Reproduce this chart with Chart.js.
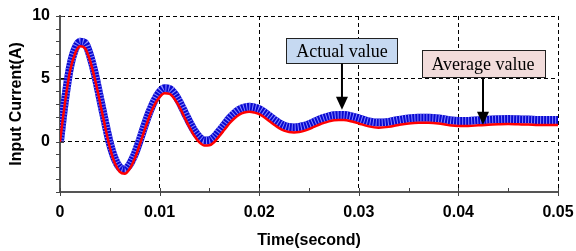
<!DOCTYPE html>
<html>
<head>
<meta charset="utf-8">
<script src="https://cdn.jsdelivr.net/npm/chart.js@4"></script>
<style>
  html, body { margin: 0; padding: 0; background: #fff; }
  #wrap { width: 576px; height: 251px; }
</style>
</head>
<body>
<div id="wrap"><canvas id="c"></canvas></div>
<script>
// time axis (seconds)
const times = [
  0, 0.0005, 0.001, 0.0015, 0.002, 0.0025, 0.003, 0.0035, 0.004, 0.0045,
  0.005, 0.0055, 0.006, 0.0065, 0.007, 0.0075, 0.008, 0.0085, 0.009, 0.0095,
  0.01, 0.0105, 0.011, 0.0115, 0.012, 0.0125, 0.013, 0.0135, 0.014, 0.0145,
  0.015, 0.0155, 0.016, 0.0165, 0.017, 0.0175, 0.018, 0.0185, 0.019, 0.0195,
  0.02, 0.0205, 0.021, 0.0215, 0.022, 0.0225, 0.023, 0.0235, 0.024, 0.0245,
  0.025, 0.0255, 0.026, 0.0265, 0.027, 0.0275, 0.028, 0.0285, 0.029, 0.0295,
  0.03, 0.031, 0.032, 0.033, 0.034, 0.035, 0.036, 0.037, 0.038, 0.039,
  0.04, 0.041, 0.042, 0.043, 0.044, 0.045, 0.046, 0.047, 0.048, 0.049, 0.05
];

// average input current (red)
const averageValue = [
  0, 3.1, 5.6, 7.0, 7.6, 7.45, 6.5, 5.0, 3.2, 1.3,
  -0.45, -1.7, -2.4, -2.55, -2.15, -1.35, -0.25, 0.95, 2.05, 2.95,
  3.55, 3.85, 3.8, 3.4, 2.75, 1.95, 1.15, 0.45, -0.05, -0.3,
  -0.28, -0.02, 0.45, 0.95, 1.45, 1.85, 2.15, 2.32, 2.38, 2.32,
  2.2, 1.95, 1.65, 1.35, 1.08, 0.88, 0.77, 0.74, 0.77, 0.86,
  1.0, 1.18, 1.35, 1.5, 1.62, 1.7, 1.73, 1.72, 1.67, 1.57,
  1.45, 1.22, 1.12, 1.18, 1.33, 1.45, 1.5, 1.5, 1.45, 1.32,
  1.25, 1.25, 1.3, 1.35, 1.38, 1.4, 1.38, 1.36, 1.33, 1.32, 1.32
];

// actual input current (blue, rippled band)
const actualValue = [
  0.05, 3.3, 5.9, 7.35, 7.95, 7.85, 6.9, 5.4, 3.55, 1.65,
  -0.1, -1.35, -2.05, -2.2, -1.8, -1.0, 0.1, 1.3, 2.4, 3.3,
  3.95, 4.25, 4.2, 3.8, 3.15, 2.35, 1.55, 0.85, 0.35, 0.1,
  0.12, 0.38, 0.85, 1.35, 1.85, 2.25, 2.55, 2.72, 2.78, 2.72,
  2.6, 2.35, 2.05, 1.75, 1.48, 1.28, 1.17, 1.14, 1.17, 1.26,
  1.4, 1.58, 1.75, 1.9, 2.02, 2.1, 2.13, 2.12, 2.07, 1.97,
  1.85, 1.62, 1.52, 1.58, 1.73, 1.85, 1.9, 1.9, 1.85, 1.72,
  1.65, 1.65, 1.7, 1.75, 1.78, 1.8, 1.78, 1.76, 1.73, 1.72, 1.72
];

const xTicks = [0, 0.01, 0.02, 0.03, 0.04, 0.05];
const yTicks = [0, 5, 10];
const xMinor = [0.005, 0.015, 0.025, 0.035, 0.045];
const yMinor = [-4, -3, -2, -1, 1, 2, 3, 4, 6, 7, 8, 9];

// callouts: text, arrow x, arrow tip y, box top y (data units)
const callouts = [
  { text: 'Actual value', x: 0.02831, tip: 2.55, top: 8.27, h: 25, fill: '#c6d9f1' },
  { text: 'Average value', x: 0.04247, tip: 1.35, top: 7.32, h: 27, fill: '#f2dcdb' }
];

const pts = arr => arr.map((v, i) => ({ x: times[i], y: v }));

const sans = 'Liberation Sans, Arial, sans-serif';
const tickFont = { family: sans, size: 16, weight: 'bold' };

const extras = {
  id: 'extras',
  afterDraw(chart) {
    const { ctx, scales: { x, y } } = chart;
    ctx.save();
    // small tick marks on the axes
    ctx.strokeStyle = '#444';
    ctx.lineWidth = 1;
    ctx.beginPath();
    yMinor.forEach(v => {
      const py = Math.round(y.getPixelForValue(v)) + 0.5;
      ctx.moveTo(x.left - 4, py); ctx.lineTo(x.left, py);
    });
    yTicks.forEach(v => {
      const py = Math.round(y.getPixelForValue(v)) + 0.5;
      ctx.moveTo(x.left - 4, py); ctx.lineTo(x.left + 4, py);
    });
    xMinor.forEach(v => {
      const px = Math.round(x.getPixelForValue(v)) + 0.5;
      ctx.moveTo(px, y.bottom); ctx.lineTo(px, y.bottom - 4);
    });
    xTicks.forEach(v => {
      const px = Math.round(x.getPixelForValue(v)) + 0.5;
      ctx.moveTo(px, y.bottom + 4); ctx.lineTo(px, y.bottom - 4);
    });
    ctx.stroke();

    // callout boxes with arrows
    ctx.font = '18px "Liberation Serif", "Times New Roman", serif';
    callouts.forEach(c => {
      const cx = x.getPixelForValue(c.x);
      const top = Math.round(y.getPixelForValue(c.top)) + 0.5;
      const tipY = y.getPixelForValue(c.tip);
      const w = Math.round(ctx.measureText(c.text).width + 20);
      const left = Math.round(cx - w / 2) + 0.5;
      ctx.fillStyle = c.fill;
      ctx.fillRect(left, top, w, c.h);
      ctx.strokeStyle = '#222';
      ctx.lineWidth = 1;
      ctx.strokeRect(left, top, w, c.h);
      ctx.fillStyle = '#000';
      ctx.textAlign = 'center';
      ctx.textBaseline = 'middle';
      ctx.fillText(c.text, cx, top + c.h / 2 + 1);
      // arrow
      ctx.strokeStyle = '#000';
      ctx.lineWidth = 2;
      ctx.beginPath();
      ctx.moveTo(cx, top + c.h);
      ctx.lineTo(cx, tipY - 10);
      ctx.stroke();
      ctx.beginPath();
      ctx.moveTo(cx - 6, tipY - 13);
      ctx.lineTo(cx + 6, tipY - 13);
      ctx.lineTo(cx, tipY);
      ctx.closePath();
      ctx.fill();
    });
    ctx.restore();
  }
};

new Chart(document.getElementById('c'), {
  type: 'line',
  data: {
    datasets: [
      {
        label: 'Average value',
        data: pts(averageValue),
        borderColor: '#ff0000',
        borderWidth: 2.5,
        pointRadius: 0,
        cubicInterpolationMode: 'monotone',
        order: 1
      },
      {
        label: 'Actual value ripple',
        data: pts(actualValue),
        borderColor: '#8a8aff',
        borderWidth: 8,
        borderDash: [1, 2],
        pointRadius: 0,
        cubicInterpolationMode: 'monotone',
        order: 2
      },
      {
        label: 'Actual value',
        data: pts(actualValue),
        borderColor: '#0808d0',
        borderWidth: 8,
        pointRadius: 0,
        cubicInterpolationMode: 'monotone',
        order: 3
      }
    ]
  },
  options: {
    responsive: true,
    maintainAspectRatio: false,
    animation: false,
    layout: { padding: { top: 16, right: 18, left: 0, bottom: 0 } },
    plugins: {
      legend: { display: false },
      tooltip: { enabled: false }
    },
    scales: {
      x: {
        type: 'linear',
        min: 0,
        max: 0.05,
        afterBuildTicks: s => { s.ticks = xTicks.map(v => ({ value: v })); },
        afterFit: s => { s.height = 59; s.paddingLeft = 0; s.paddingRight = 0; },
        ticks: {
          color: '#000',
          font: tickFont,
          padding: 11,
          maxRotation: 0,
          callback: v => v === 0 ? '0' : v.toFixed(2)
        },
        grid: { color: '#000', lineWidth: 1, drawTicks: false },
        border: { display: true, color: '#555', width: 2, dash: [4, 3] },
        title: {
          display: true,
          text: 'Time(second)',
          color: '#000',
          font: { family: sans, size: 16, weight: 'bold' },
          padding: { top: 0, bottom: 1 }
        }
      },
      y: {
        min: -4,
        max: 10,
        afterBuildTicks: s => { s.ticks = yTicks.map(v => ({ value: v })); },
        afterFit: s => { s.width = 60; s.paddingTop = 0; s.paddingBottom = 0; },
        ticks: { color: '#000', font: tickFont, padding: 10 },
        grid: { color: '#000', lineWidth: 1, drawTicks: false },
        border: { display: true, color: '#555', width: 2, dash: [4, 3] },
        title: {
          display: true,
          text: 'Input Current(A)',
          color: '#000',
          font: { family: sans, size: 16, weight: 'bold' },
          padding: { top: 7, bottom: 0 }
        }
      }
    }
  },
  plugins: [extras]
});
</script>
</body>
</html>
